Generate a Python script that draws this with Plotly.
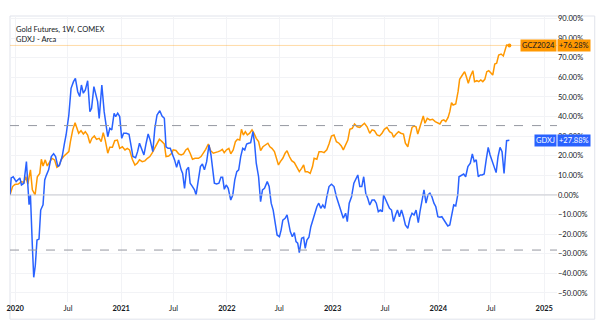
import numpy as np
import pandas as pd
import plotly.graph_objects as go

# ---- data (time in decimal years, values in % change) ----
gdxj_t = [2019.950, 2019.962, 2019.981, 2020.009, 2020.044, 2020.059, 2020.082, 2020.106, 2020.131, 2020.144,
          2020.162, 2020.175, 2020.190, 2020.206, 2020.225, 2020.241, 2020.263, 2020.279, 2020.294, 2020.316,
          2020.341, 2020.363, 2020.382, 2020.403, 2020.419, 2020.444, 2020.466, 2020.481, 2020.507, 2020.528,
          2020.551, 2020.569, 2020.591, 2020.610, 2020.626, 2020.644, 2020.663, 2020.685, 2020.706, 2020.722,
          2020.744, 2020.763, 2020.779, 2020.794, 2020.819, 2020.841, 2020.856, 2020.875, 2020.894, 2020.913,
          2020.935, 2020.950, 2020.969, 2020.988, 2021.007, 2021.025, 2021.051, 2021.076, 2021.091, 2021.113,
          2021.138, 2021.157, 2021.175, 2021.194, 2021.217, 2021.238, 2021.257, 2021.276, 2021.301, 2021.320,
          2021.341, 2021.367, 2021.388, 2021.410, 2021.426, 2021.445, 2021.466, 2021.489, 2021.507, 2021.526,
          2021.545, 2021.569, 2021.583, 2021.601, 2021.620, 2021.639, 2021.654, 2021.676, 2021.695, 2021.710,
          2021.733, 2021.751, 2021.770, 2021.789, 2021.810, 2021.832, 2021.851, 2021.870, 2021.883, 2021.904,
          2021.926, 2021.945, 2021.961, 2021.977, 2021.995, 2022.014, 2022.038, 2022.057, 2022.076, 2022.095,
          2022.113, 2022.132, 2022.151, 2022.170, 2022.188, 2022.207, 2022.226, 2022.248, 2022.263, 2022.279,
          2022.301, 2022.320, 2022.338, 2022.357, 2022.383, 2022.401, 2022.420, 2022.439, 2022.458, 2022.476,
          2022.498, 2022.514, 2022.530, 2022.552, 2022.570, 2022.583, 2022.601, 2022.620, 2022.639, 2022.655,
          2022.671, 2022.686, 2022.708, 2022.727, 2022.742, 2022.758, 2022.777, 2022.795, 2022.814, 2022.833,
          2022.852, 2022.870, 2022.889, 2022.908, 2022.927, 2022.946, 2022.967, 2022.990, 2023.014, 2023.037,
          2023.061, 2023.083, 2023.102, 2023.124, 2023.140, 2023.158, 2023.180, 2023.202, 2023.220, 2023.239,
          2023.258, 2023.277, 2023.295, 2023.314, 2023.333, 2023.352, 2023.374, 2023.396, 2023.414, 2023.433,
          2023.452, 2023.471, 2023.483, 2023.502, 2023.520, 2023.539, 2023.558, 2023.577, 2023.596, 2023.614,
          2023.633, 2023.652, 2023.671, 2023.689, 2023.712, 2023.733, 2023.752, 2023.771, 2023.790, 2023.811,
          2023.827, 2023.846, 2023.865, 2023.884, 2023.902, 2023.921, 2023.940, 2023.959, 2023.977, 2023.996,
          2024.015, 2024.034, 2024.052, 2024.071, 2024.090, 2024.109, 2024.127, 2024.146, 2024.165, 2024.184,
          2024.196, 2024.218, 2024.240, 2024.259, 2024.280, 2024.303, 2024.322, 2024.340, 2024.359, 2024.378,
          2024.397, 2024.415, 2024.434, 2024.453, 2024.472, 2024.490, 2024.509, 2024.528, 2024.547, 2024.565,
          2024.584, 2024.603, 2024.622, 2024.634, 2024.646, 2024.672]
gdxj_v = [0, 8.7, 9.3, 6.8, 8.7, 5.1, 6.0, 17.0, -5.0, 0.0,
          -26.0, -42.0, -36.0, -23.0, -22.5, -7.7, -5.0, 7.7, 10.0, 12.8,
          19.6, 21.0, 19.6, 14.5, 15.3, 19.6, 26.4, 30.6, 40.8, 54.4,
          57.8, 59.5, 52.7, 50.2, 56.1, 51.9, 53.6, 58.3, 42.5, 44.2,
          55.3, 50.2, 47.6, 39.1, 56.1, 42.5, 35.7, 29.7, 34.0, 33.2,
          41.7, 40.0, 41.7, 40.0, 28.9, 31.5, 31.5, 31.0, 26.4, 19.6,
          19.0, 22.1, 26.4, 23.8, 20.4, 26.4, 31.1, 28.0, 22.1, 34.0,
          40.8, 43.0, 40.3, 39.1, 24.6, 23.8, 23.8, 20.4, 17.9, 14.1,
          17.9, 12.8, 11.0, 3.4, 12.8, 14.1, 6.0, 4.3, 2.6, 0.0,
          9.3, 14.5, 15.8, 12.8, 17.0, 25.5, 20.4, 11.9, 6.0, 5.6,
          6.0, 9.0, 9.0, 2.9, 5.1, 3.4, -2.6, 0.0, 7.7, 11.9,
          12.8, 19.6, 23.8, 23.0, 26.0, 26.4, 26.7, 32.3, 26.4, 16.2,
          9.3, -3.4, 2.6, 3.4, 6.8, 4.3, -4.2, -7.7, -13.6, -20.4,
          -21.3, -17.9, -12.8, -11.9, -10.2, -14.5, -18.7, -21.3, -19.2, -23.8,
          -24.6, -29.4, -22.1, -21.6, -27.2, -23.0, -21.6, -16.2, -12.8, -10.2,
          -6.0, -4.2, -6.8, -5.1, -6.8, -0.9, 4.3, 5.5, 4.3, -0.9,
          -5.1, -8.5, -11.9, -9.3, -13.6, -4.2, -0.9, 6.0, 8.5, 10.2,
          4.3, 4.3, 9.3, 0.9, -1.7, -5.1, -2.6, -2.6, -4.2, -8.5,
          -7.7, -8.5, 0.0, -2.6, -5.1, -6.8, -7.7, -13.6, -10.2, -7.7,
          -11.1, -7.7, -11.1, -15.3, -17.0, -11.9, -9.3, -10.2, -7.7, -14.1,
          -8.5, -3.4, 2.6, -4.2, 0.0, 0.9, -0.9, -4.2, -6.0, -11.1,
          -11.4, -11.1, -12.8, -14.5, -15.8, -15.3, -10.2, -5.1, -5.6, 0.0,
          9.3, 10.2, 10.7, 9.3, 14.5, 16.2, 21.0, 17.0, 17.9, 9.3,
          10.2, 10.2, 10.7, 17.9, 24.3, 20.4, 17.0, 14.5, 11.4, 19.6,
          24.3, 22.1, 11.0, 19.6, 27.7, 27.88]

gold_t = [2019.950, 2019.975, 2019.997, 2020.028, 2020.059, 2020.082, 2020.100, 2020.119, 2020.144, 2020.162,
          2020.188, 2020.209, 2020.232, 2020.247, 2020.263, 2020.284, 2020.303, 2020.325, 2020.347, 2020.372,
          2020.394, 2020.413, 2020.434, 2020.457, 2020.481, 2020.507, 2020.522, 2020.544, 2020.566, 2020.582,
          2020.600, 2020.622, 2020.644, 2020.663, 2020.685, 2020.706, 2020.725, 2020.748, 2020.769, 2020.794,
          2020.813, 2020.832, 2020.851, 2020.875, 2020.894, 2020.919, 2020.941, 2020.966, 2020.988, 2021.013,
          2021.038, 2021.060, 2021.081, 2021.107, 2021.132, 2021.154, 2021.175, 2021.201, 2021.226, 2021.250,
          2021.273, 2021.294, 2021.316, 2021.341, 2021.363, 2021.388, 2021.410, 2021.426, 2021.451, 2021.475,
          2021.494, 2021.520, 2021.545, 2021.569, 2021.591, 2021.613, 2021.632, 2021.654, 2021.676, 2021.701,
          2021.733, 2021.757, 2021.779, 2021.801, 2021.826, 2021.848, 2021.873, 2021.898, 2021.920, 2021.942,
          2021.958, 2021.976, 2021.998, 2022.020, 2022.038, 2022.061, 2022.082, 2022.101, 2022.123, 2022.139,
          2022.157, 2022.176, 2022.195, 2022.217, 2022.239, 2022.258, 2022.279, 2022.301, 2022.320, 2022.342,
          2022.364, 2022.389, 2022.408, 2022.427, 2022.451, 2022.470, 2022.489, 2022.507, 2022.530, 2022.552,
          2022.570, 2022.592, 2022.614, 2022.639, 2022.664, 2022.686, 2022.708, 2022.727, 2022.742, 2022.764,
          2022.789, 2022.811, 2022.826, 2022.852, 2022.873, 2022.896, 2022.920, 2022.946, 2022.967, 2022.990,
          2023.014, 2023.037, 2023.061, 2023.083, 2023.102, 2023.124, 2023.145, 2023.164, 2023.187, 2023.208,
          2023.234, 2023.258, 2023.280, 2023.302, 2023.327, 2023.352, 2023.374, 2023.396, 2023.421, 2023.445,
          2023.468, 2023.490, 2023.515, 2023.539, 2023.562, 2023.577, 2023.602, 2023.624, 2023.646, 2023.671,
          2023.689, 2023.712, 2023.733, 2023.752, 2023.771, 2023.790, 2023.806, 2023.821, 2023.839, 2023.858,
          2023.874, 2023.896, 2023.921, 2023.946, 2023.971, 2023.996, 2024.015, 2024.034, 2024.052, 2024.071,
          2024.093, 2024.109, 2024.125, 2024.140, 2024.165, 2024.187, 2024.202, 2024.228, 2024.249, 2024.265,
          2024.284, 2024.303, 2024.327, 2024.343, 2024.365, 2024.383, 2024.402, 2024.421, 2024.440, 2024.459,
          2024.477, 2024.496, 2024.515, 2024.534, 2024.552, 2024.571, 2024.594, 2024.615, 2024.631, 2024.646,
          2024.672]
gold_v = [0.0, 4.3, 5.4, 5.6, 6.8, 6.3, 9.3, 5.6, 12.8, 2.6,
          0.0, 9.3, 11.0, 18.2, 14.8, 17.9, 14.8, 17.0, 18.7, 17.9,
          14.1, 14.8, 17.9, 19.6, 21.0, 22.1, 27.2, 33.2, 36.9, 34.0,
          31.5, 32.8, 31.1, 32.3, 30.6, 26.4, 28.9, 30.1, 28.4, 28.9,
          27.2, 31.8, 28.0, 21.3, 24.3, 24.3, 27.7, 28.0, 23.8, 24.6,
          23.0, 23.8, 23.0, 18.2, 15.3, 16.2, 17.9, 17.0, 17.4, 18.7,
          19.6, 21.3, 23.8, 26.4, 28.4, 27.2, 26.0, 19.6, 19.9, 21.0,
          23.0, 22.7, 21.0, 20.4, 21.0, 23.0, 23.8, 21.3, 18.2, 18.7,
          18.7, 19.6, 21.3, 23.3, 26.0, 22.6, 21.3, 21.6, 22.1, 22.6,
          23.3, 21.6, 23.0, 23.8, 21.0, 23.0, 27.2, 28.4, 28.0, 33.5,
          30.6, 32.3, 30.6, 31.5, 33.2, 31.5, 28.9, 27.2, 22.6, 24.6,
          25.5, 26.4, 24.6, 23.8, 22.1, 18.7, 15.3, 17.0, 18.7, 21.3,
          22.6, 19.6, 17.5, 16.5, 14.1, 11.9, 13.6, 15.3, 11.9, 11.9,
          11.0, 14.5, 18.7, 18.2, 22.1, 22.1, 21.6, 23.0, 26.0, 30.1,
          30.6, 27.2, 26.4, 25.0, 23.0, 25.5, 28.0, 33.5, 34.0, 36.2,
          34.8, 34.5, 35.7, 36.6, 34.8, 31.5, 33.2, 32.8, 30.6, 30.1,
          31.5, 33.5, 34.5, 32.3, 31.5, 29.4, 31.1, 32.3, 31.5, 31.1,
          26.4, 24.6, 30.1, 34.5, 35.2, 34.8, 31.1, 34.0, 36.6, 40.3,
          36.6, 39.1, 38.3, 38.6, 37.4, 36.9, 36.2, 37.9, 38.3, 37.4,
          39.6, 42.5, 47.1, 45.9, 46.4, 52.7, 59.0, 61.2, 62.9, 60.4,
          57.0, 60.4, 63.4, 57.8, 58.3, 57.8, 58.7, 57.8, 59.0, 62.9,
          63.4, 62.4, 61.2, 66.8, 67.2, 71.4, 71.9, 70.9, 74.0, 76.5,
          76.28]

x_tick_dates = ["2020-01-01", "2020-07-01", "2021-01-01", "2021-07-01", "2022-01-01", "2022-07-01",
                "2023-01-01", "2023-07-01", "2024-01-01", "2024-07-01", "2025-01-01"]
x_tick_text = ["<b>2020</b>", "Jul", "<b>2021</b>", "Jul", "<b>2022</b>", "Jul",
               "<b>2023</b>", "Jul", "<b>2024</b>", "Jul", "<b>2025</b>"]
y_ticks = [-50, -40, -30, -20, -10, 0, 10, 20, 30, 40, 50, 60, 70, 80, 90]
y_tick_text = ["\u221250.00%", "\u221240.00%", "\u221230.00%", "\u221220.00%", "\u221210.00%", "0.00%",
               "10.00%", "20.00%", "30.00%", "40.00%", "50.00%", "60.00%", "70.00%", "80.00%", "90.00%"]
upper_level = 35.4
lower_level = -28.1
gold_name, gold_last = "GCZ2024", 76.28
gdxj_name, gdxj_last = "GDXJ", 27.88


def to_dates(t):
    t = np.asarray(t, dtype=float)
    return pd.Timestamp("2020-01-01") + pd.to_timedelta((t - 2020.0) * 365.25, unit="D")


BLUE = "#2962ff"
ORANGE = "#ff9800"
FONT = "Lato"

fig = go.Figure()
fig.add_trace(go.Scatter(x=to_dates(gold_t), y=gold_v, mode="lines",
                         line=dict(color=ORANGE, width=1.5), showlegend=False))
fig.add_trace(go.Scatter(x=to_dates(gdxj_t), y=gdxj_v, mode="lines",
                         line=dict(color=BLUE, width=1.5), showlegend=False))
# last point dot for gold
fig.add_trace(go.Scatter(x=to_dates(gold_t[-1:]), y=gold_v[-1:], mode="markers",
                         marker=dict(color=ORANGE, size=4), showlegend=False))

# horizontal reference lines
fig.add_hline(y=0, line=dict(color="#c8cad0", width=1))
fig.add_hline(y=upper_level, line=dict(color="#9598a1", width=1, dash="dash"))
fig.add_hline(y=lower_level, line=dict(color="#9598a1", width=1, dash="dash"))
fig.add_hline(y=gold_last, line=dict(color="rgba(255,152,0,0.35)", width=1))

# frame
fig.add_shape(type="rect", xref="paper", yref="paper", x0=0, x1=1.069, y0=-0.06, y1=1.0,
              line=dict(color="#e0e3eb", width=1), layer="below")

# series name labels + last value labels
for name, last, bg, fg in [(gold_name, gold_last, ORANGE, "#131722"),
                           (gdxj_name, gdxj_last, BLUE, "#ffffff")]:
    fig.add_annotation(x=1, xref="paper", y=last, yref="y", xanchor="right", yanchor="middle",
                       text=name, showarrow=False, bgcolor=bg, borderpad=1,
                       font=dict(family=FONT, size=7.5, color=fg))
    fig.add_annotation(x=1, xref="paper", y=last, yref="y", xanchor="left", yanchor="middle",
                       text="+%.2f%%" % last, showarrow=False, bgcolor=bg, borderpad=1,
                       font=dict(family=FONT, size=7.5, color=fg))

# top-left legend text
fig.add_annotation(x=0.008, xref="paper", y=0.975, yref="paper", xanchor="left", yanchor="top",
                   text="Gold Futures, 1W, COMEX<br>GDXJ - Arca", align="left", showarrow=False,
                   font=dict(family=FONT, size=7.5, color="#131722"))

fig.update_layout(
    width=600, height=322,
    margin=dict(l=7, r=43, t=16, b=20),
    paper_bgcolor="white", plot_bgcolor="white",
    font=dict(family=FONT, size=7.5, color="#131722"),
    xaxis=dict(range=["2019-12-14", "2025-02-14"], tickmode="array",
               tickvals=x_tick_dates, ticktext=x_tick_text,
               showgrid=True, gridcolor="#f2f3f6", gridwidth=1,
               zeroline=False, showline=False, ticks="",
               tickfont=dict(family=FONT, size=7.5, color="#131722")),
    yaxis=dict(range=[-54.6, 91.3], side="right", tickmode="array", tickvals=y_ticks,
               ticktext=y_tick_text,
               showgrid=True, gridcolor="#f2f3f6", gridwidth=1,
               zeroline=False, showline=False, ticks="",
               tickfont=dict(family=FONT, size=7.5, color="#131722")),
)

fig.write_html("out.html")
